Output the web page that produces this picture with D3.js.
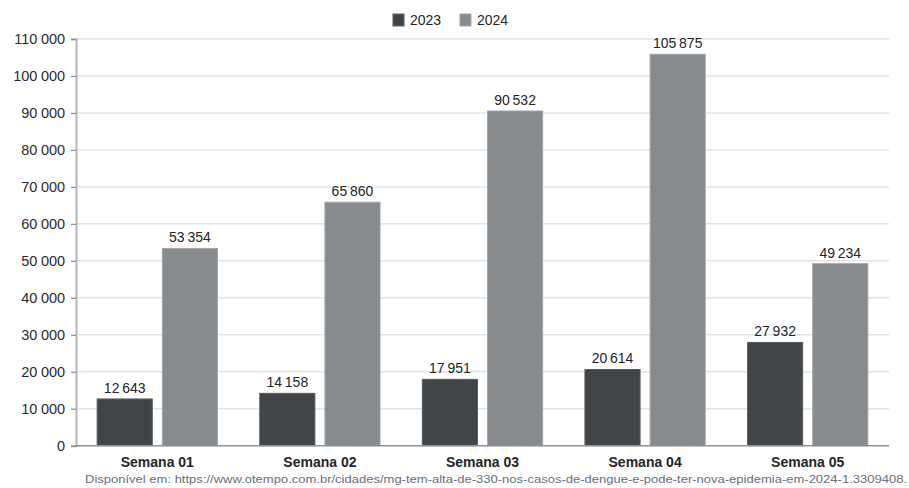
<!DOCTYPE html>
<html>
<head>
<meta charset="utf-8">
<script src="https://cdn.jsdelivr.net/npm/d3@7"></script>
<style>
  html, body { margin: 0; padding: 0; background: #fff; }
  svg { display: block; }
  text { font-family: "Liberation Sans", Arial, sans-serif; }
</style>
</head>
<body>
<svg id="chart" width="909" height="488"></svg>
<script>
// Casos de dengue por semana epidemiológica — MG, 2023 x 2024
const categories = ["Semana 01", "Semana 02", "Semana 03", "Semana 04", "Semana 05"];
const years = ["2023", "2024"];
const values2023 = [12643, 14158, 17951, 20614, 27932];
const values2024 = [53354, 65860, 90532, 105875, 49234];
const yTicks = [0, 10000, 20000, 30000, 40000, 50000, 60000, 70000, 80000, 90000, 100000, 110000];
const sourceText = "Disponível em: https://www.otempo.com.br/cidades/mg-tem-alta-de-330-nos-casos-de-dengue-e-pode-ter-nova-epidemia-em-2024-1.3309408.";

const colors = { "2023": "#424548", "2024": "#878b8e" };
const strokes = { "2023": "#5a5d60", "2024": "#a3a6a8" };

const svg = d3.select("#chart");
const margin = { left: 76, right: 20, top: 39, bottom: 42 };
const plotRight = 889, plotBottom = 445.7;

const fmt = v => d3.format(",")(v).replace(/,/g, "\u2009");
const fmtTick = v => d3.format(",")(v).replace(/,/g, " ");

const y = d3.scaleLinear().domain([0, 110000]).range([plotBottom, margin.top]);
const x0 = d3.scaleBand().domain(categories).range([margin.left, plotRight])
  .paddingInner(0.26).paddingOuter(0.13);
const x1 = d3.scaleBand().domain(years).range([0, x0.bandwidth()]).paddingInner(0.154);

// grid lines
svg.append("g")
  .selectAll("line")
  .data(yTicks.filter(t => t > 0))
  .join("line")
  .attr("x1", margin.left).attr("x2", plotRight)
  .attr("y1", d => y(d)).attr("y2", d => y(d))
  .attr("stroke", "#e1e3e5").attr("stroke-width", 1.5);

// y axis
const yAxis = d3.axisLeft(y).tickValues(yTicks).tickFormat(fmtTick).tickSize(5).tickPadding(6);
const gy = svg.append("g").attr("transform", `translate(${margin.left},0)`).call(yAxis);
gy.select(".domain").attr("stroke", "#b3b6b8").attr("stroke-width", 2);
gy.selectAll(".tick line").attr("stroke", "#8a8d90").attr("stroke-width", 1.2);
gy.selectAll(".tick text")
  .attr("fill", "#2a2c2f").attr("font-size", 14.5)
  .attr("letter-spacing", -0.1)
  .style("font-family", "'Liberation Sans', Arial, sans-serif");

// bars
const data = categories.map((c, i) => ({ cat: c, vals: [
  { year: "2023", value: values2023[i] },
  { year: "2024", value: values2024[i] }
]}));

const groups = svg.append("g").selectAll("g")
  .data(data).join("g")
  .attr("transform", d => `translate(${x0(d.cat)},0)`);

groups.selectAll("rect")
  .data(d => d.vals).join("rect")
  .attr("x", d => x1(d.year))
  .attr("y", d => y(d.value))
  .attr("width", x1.bandwidth())
  .attr("height", d => plotBottom - y(d.value))
  .attr("fill", d => colors[d.year])
  .attr("stroke", d => strokes[d.year]).attr("stroke-width", 1);

groups.selectAll("text.val")
  .data(d => d.vals).join("text")
  .attr("class", "val")
  .attr("x", d => x1(d.year) + x1.bandwidth() / 2)
  .attr("y", d => y(d.value) - 6)
  .attr("text-anchor", "middle")
  .attr("font-size", 14)
  .attr("fill", "#232527")
  .text(d => fmt(d.value));

// baseline
svg.append("line")
  .attr("x1", margin.left - 1).attr("x2", plotRight)
  .attr("y1", plotBottom).attr("y2", plotBottom)
  .attr("stroke", "#8f9295").attr("stroke-width", 1.5);

// x axis labels
const xAxis = d3.axisBottom(x0).tickSize(0).tickPadding(11);
const gx = svg.append("g").attr("transform", `translate(0,${plotBottom})`).call(xAxis);
gx.select(".domain").remove();
gx.selectAll(".tick text")
  .attr("fill", "#232527").attr("font-size", 14).attr("font-weight", "bold")
  .style("font-family", "'Liberation Sans', Arial, sans-serif");

// legend
const legend = svg.append("g").attr("transform", "translate(393,14)");
const legItems = legend.selectAll("g").data(years).join("g")
  .attr("transform", (d, i) => `translate(${i * 67},0)`);
legItems.append("rect")
  .attr("width", 11).attr("height", 12)
  .attr("fill", d => colors[d]).attr("stroke", d => strokes[d]);
legItems.append("text")
  .attr("x", 17).attr("y", 11)
  .attr("font-size", 14)
  .attr("fill", "#232527")
  .text(d => d);

// source note
svg.append("text")
  .attr("x", 907).attr("y", 483)
  .attr("text-anchor", "end")
  .attr("font-size", 11.5)
  .attr("fill", "#66707a")
  .attr("textLength", 822).attr("lengthAdjust", "spacingAndGlyphs")
  .text(sourceText);
</script>
</body>
</html>
